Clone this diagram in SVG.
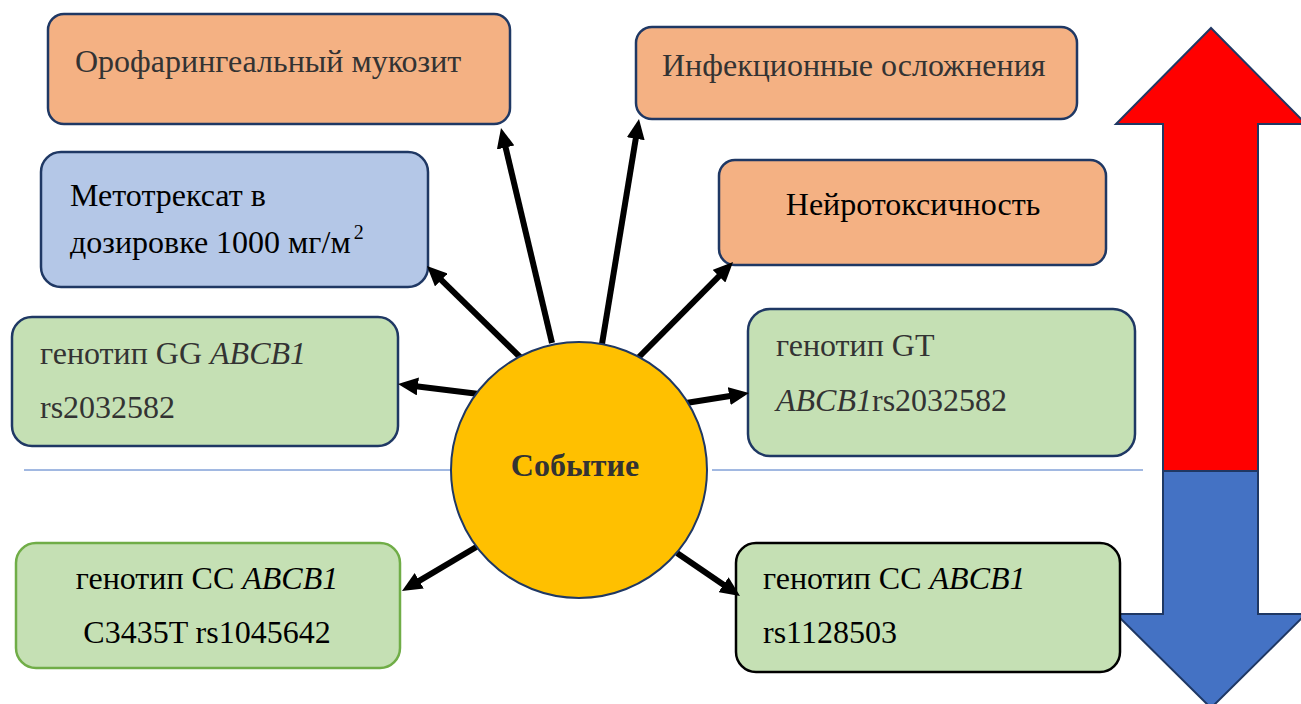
<svg xmlns="http://www.w3.org/2000/svg" width="1301" height="704" viewBox="0 0 1301 704">
<style>
.box{stroke:#1F3864;stroke-width:2.5}
.orange{fill:#F4B183}
.blue{fill:#B4C7E7}
.green{fill:#C5E0B4}
text{font-family:'Liberation Serif','Times New Roman',serif;font-size:32px}
.g{fill:#333333}
.k{fill:#000000}
.i{font-style:italic}
.conn{stroke:#000;stroke-width:6;fill:none}
</style>
<defs>
<marker id="ah" viewBox="0 0 20 18" markerWidth="20" markerHeight="18" markerUnits="userSpaceOnUse" refX="4" refY="9" orient="auto">
<path d="M0,0 L20,9 L0,18 z" fill="#000"/>
</marker>
</defs>
<rect width="1301" height="704" fill="#fff"/>
<g id="divider">
<line x1="24" y1="470" x2="452" y2="470" stroke="#4472C4" stroke-width="1"/>
<line x1="712" y1="470" x2="1143" y2="470" stroke="#4472C4" stroke-width="1"/>
</g>
<g id="double-arrow">
<path d="M1163,471 L1163,124 L1116,124 L1211,28 L1306,124 L1258,124 L1258,471 Z" fill="#FF0000" stroke="#1F3864" stroke-width="2"/>
<path d="M1163,471 L1163,614 L1116,614 L1211,708 L1306,614 L1258,614 L1258,471 Z" fill="#4472C4" stroke="#1F3864" stroke-width="2"/>
</g>
<g id="n-oro">
<rect class="box orange" x="48" y="14" width="462" height="110" rx="16"/>
<text class="g" x="75" y="72">Орофарингеальный мукозит</text>
</g>
<g id="n-inf">
<rect class="box orange" x="636" y="27" width="441" height="92" rx="16"/>
<text class="g" x="662" y="76">Инфекционные осложнения</text>
</g>
<g id="n-neuro">
<rect class="box orange" x="719" y="160" width="387" height="105" rx="16"/>
<text class="k" x="913" y="215" text-anchor="middle">Нейротоксичность</text>
</g>
<g id="n-mtx">
<rect class="box blue" x="41" y="152" width="387" height="135" rx="20"/>
<text class="k" x="70" y="206">Метотрексат в</text>
<text class="k" x="70" y="253">дозировке 1000 мг/м<tspan dx="3" dy="-14" font-size="20">2</tspan></text>
</g>
<g id="n-gg">
<rect class="box green" x="12" y="317" width="386" height="129" rx="20"/>
<text class="g" x="40" y="364">генотип GG <tspan class="i">ABCB1</tspan></text>
<text class="g" x="40" y="418">rs2032582</text>
</g>
<g id="n-gt">
<rect class="box green" x="748" y="309" width="387" height="147" rx="22"/>
<text class="g" x="776" y="356">генотип GT</text>
<text class="g" x="776" y="411"><tspan class="i">ABCB1</tspan>rs2032582</text>
</g>
<g id="n-cc1">
<rect class="box green" x="16" y="543" width="384" height="125" rx="20" style="stroke:#70AD47"/>
<text class="k" x="207" y="589" text-anchor="middle">генотип CC <tspan class="i">ABCB1</tspan></text>
<text class="k" x="207" y="643" text-anchor="middle">C3435T rs1045642</text>
</g>
<g id="n-cc2">
<rect class="box green" x="736" y="543" width="384" height="129" rx="20" style="stroke:#000"/>
<text class="k" x="763" y="589">генотип CC <tspan class="i">ABCB1</tspan></text>
<text class="k" x="763" y="643">rs1128503</text>
</g>
<g id="connectors">
<line class="conn" x1="552" y1="343" x2="504.7" y2="143.6" marker-end="url(#ah)"/>
<line class="conn" x1="602" y1="344" x2="636.4" y2="134.8" marker-end="url(#ah)"/>
<line class="conn" x1="522" y1="359" x2="438.4" y2="277.2" marker-end="url(#ah)"/>
<line class="conn" x1="638" y1="358" x2="721.8" y2="273.4" marker-end="url(#ah)"/>
<line class="conn" x1="479" y1="394" x2="413.9" y2="386" marker-end="url(#ah)"/>
<line class="conn" x1="686" y1="403" x2="733.2" y2="395.5" marker-end="url(#ah)"/>
<line class="conn" x1="478" y1="546" x2="415.8" y2="582.8" marker-end="url(#ah)"/>
<line class="conn" x1="677" y1="553" x2="726.8" y2="587" marker-end="url(#ah)"/>
</g>
<g id="n-event">
<circle cx="579" cy="470" r="128" fill="#FFC000" stroke="#1F3864" stroke-width="2"/>
<text x="575" y="476" text-anchor="middle" font-weight="bold" fill="#333333">Событие</text>
</g>
</svg>
